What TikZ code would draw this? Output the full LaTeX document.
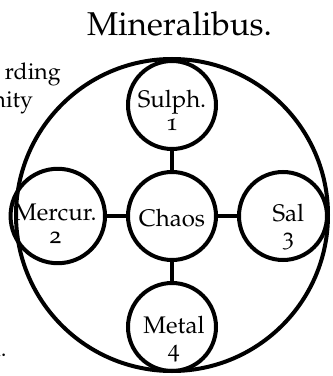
\documentclass[tikz,border=0pt]{standalone}
\usepackage[T1]{fontenc}
\usepackage[osf]{mathpazo}
\usetikzlibrary{positioning}
% two lines of a ring, moved by (#1 right, #2 up)
\newcommand{\ringtext}[4]{%
  \raisebox{#2}[\height][\depth]{\hspace*{#1}%
    \begin{tabular}{@{}c@{}}#3\\#4\end{tabular}\hspace*{-#1}}}
\tikzset{
  ring/.style={
    circle, draw=black, line width=2pt, minimum size=44pt,
    inner sep=0pt,
    font=\fontsize{12}{11.5}\selectfont
  },
  world/.style={
    circle, draw=black, line width=2pt, minimum size=156pt,
    inner sep=0pt
  },
  link/.style={line width=2pt},
  margintext/.style={inner sep=0pt, font=\fontsize{11.5}{12}\selectfont}
}
\begin{document}
\begin{tikzpicture}
        \useasboundingbox (0,0) rectangle (166.5pt,188pt);
        \clip (0,0) rectangle (166.5pt,188pt);
        % outer sphere and the central node
        \node[world] (mundus) at (86pt,80.5pt) {};
        \node[ring] (chaos) at (86pt,80pt)
          {\raisebox{-1pt}[\height][\depth]{Chaos}};
        \node[ring, above=9.5pt of chaos] (sulph)
          {\ringtext{0pt}{-4.4pt}{Sulph.}{1}};
        \node[ring, left=9.5pt of chaos] (mercur)
          {\ringtext{-1.2pt}{-5.5pt}{Mercur.}{2}};
        \node[ring, right=9.5pt of chaos] (sal)
          {\ringtext{2.7pt}{-5.7pt}{Sal}{3}};
        \node[ring, below=9.5pt of chaos] (metal)
          {\ringtext{1pt}{-6.2pt}{Metal}{4}};
        \draw[link] (chaos) -- (sulph);
        \draw[link] (chaos) -- (mercur);
        \draw[link] (chaos) -- (sal);
        \draw[link] (chaos) -- (metal);
        % title and the cut-off words of the page
        \node[inner sep=0pt, anchor=base, font=\fontsize{16.5}{19}\selectfont]
          (title) at (89.75pt,170.5pt) {Mineralibus.};
        \node[margintext, anchor=base east] (wordA)
          at (30.5pt,148.5pt) {rding};
        \node[margintext, anchor=base east] (wordB)
          at (16.7pt,134.5pt) {nity};
        \node[margintext, anchor=base east] (wordC)
          at (3.5pt,9.5pt) {n.};
      \end{tikzpicture}
\end{document}
